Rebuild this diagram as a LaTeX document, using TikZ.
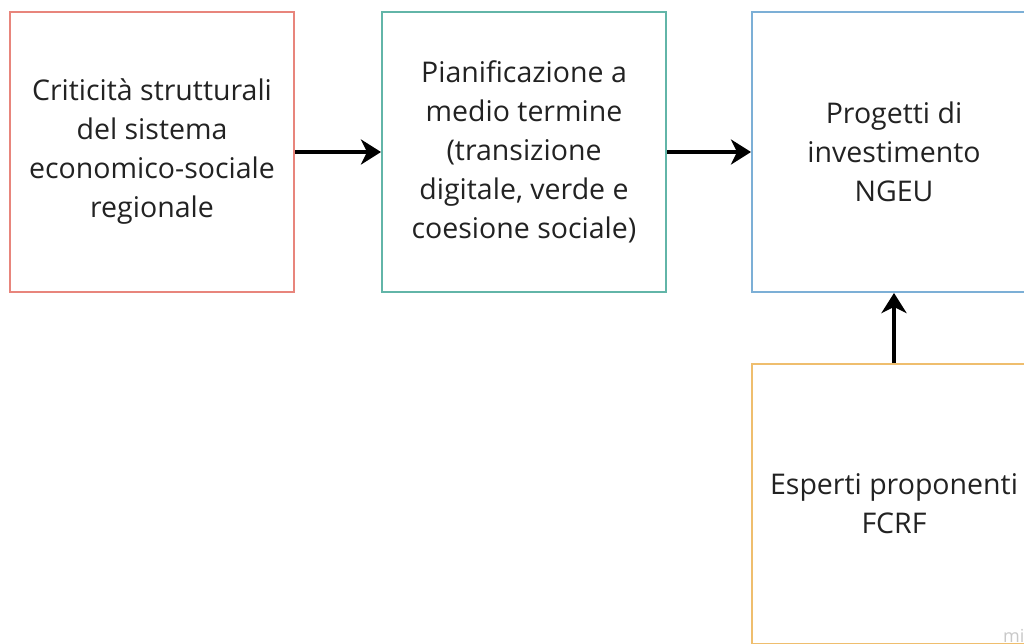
\documentclass[tikz,border=0pt]{standalone}
\usepackage{fontspec}
\setmainfont{Open Sans}
\usepackage{xcolor}
\usepackage{tikz}
\usetikzlibrary{arrows.meta,positioning}
\definecolor{salmon}{HTML}{E8857C}
\definecolor{teal}{HTML}{62B5A8}
\definecolor{sky}{HTML}{7CAFD6}
\definecolor{amber}{HTML}{EFBE6E}
\definecolor{ink}{HTML}{222222}
\definecolor{mark}{HTML}{C8C8C8}
\begin{document}
\begin{tikzpicture}[
  x=1pt,y=1pt,
  font=\fontsize{28.5}{39}\selectfont,
  box/.style={draw,line width=2pt,minimum width=284pt,minimum height=280pt,align=center,inner sep=0pt,text=ink},
  arr/.style={-{Stealth[length=20pt,width=25pt,inset=6pt]},line width=4.5pt,draw=black}
]
\useasboundingbox (0,0) rectangle (1024,-643);
\clip (0,0) rectangle (1024,-643);
\node[box,draw=salmon] (crit) at (152,-152) {Criticità strutturali\\del sistema\\economico-sociale\\regionale};
\node[box,draw=teal,right=86pt of crit] (pian) {Pianificazione a\\medio termine\\(transizione\\digitale, verde e\\coesione sociale)};
\node[box,draw=sky,right=84pt of pian] (prog) {Progetti di\\investimento\\NGEU};
\node[box,draw=amber,below=70pt of prog] (esp) {Esperti proponenti\\FCRF};
\draw[arr] (crit)--(pian); \draw[arr] (pian)--(prog);
\draw[arr] (esp)--(prog);
\node[anchor=base west,text=mark,font=\fontsize{18}{18}\selectfont,inner sep=0pt] (wm) at (1003,-642) {mi};
\end{tikzpicture}
\end{document}
